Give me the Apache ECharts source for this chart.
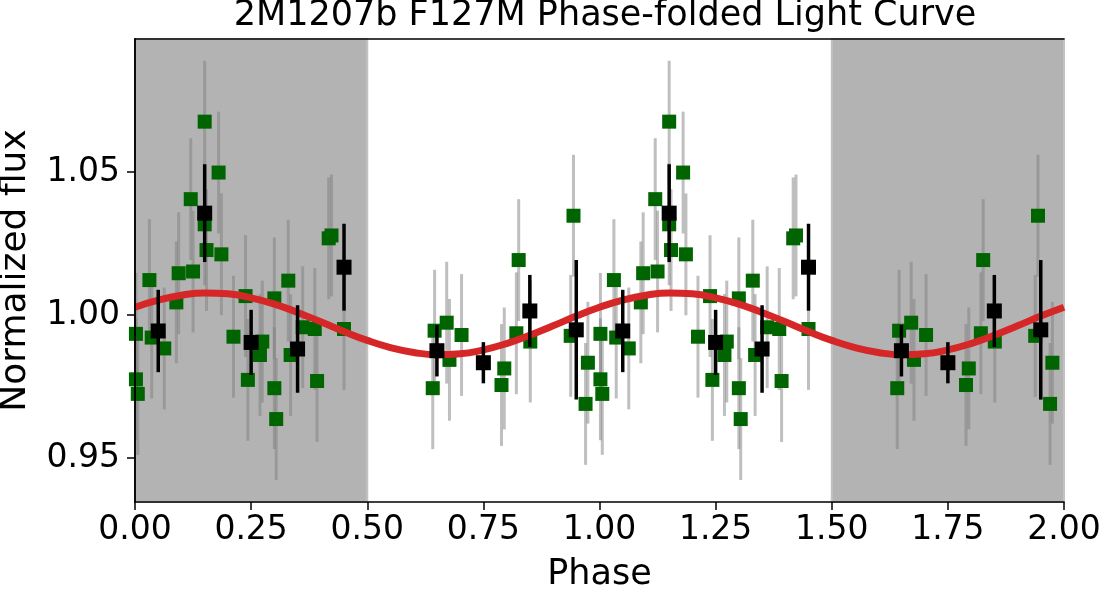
<!DOCTYPE html>
<html>
<head>
<meta charset="utf-8">
<title>2M1207b F127M Phase-folded Light Curve</title>
<script src="https://cdn.jsdelivr.net/npm/echarts@6/dist/echarts.min.js"></script>
<style>
  html, body { margin: 0; padding: 0; background: #fff; }
  #chart { width: 1104px; height: 593px; }
</style>
</head>
<body>
<div id="chart"></div>
<script>
// single-cycle data (phase 0..1), drawn twice for 0..2
const greenPhase = [0.002,0.002,0.006,0.031,0.036,0.063,0.089,0.094,0.120,0.125,0.150,0.150,0.154,0.180,0.186,0.212,0.238,0.243,0.269,0.274,0.300,0.300,0.304,0.330,0.335,0.361,0.387,0.392,0.417,0.423,0.450,0.641,0.645,0.671,0.677,0.703,0.789,0.795,0.821,0.826,0.851,0.938,0.944,0.970,0.975];
const greenFlux = [0.9934,0.9775,0.9724,1.0122,0.9921,0.9883,1.0044,1.0146,1.0405,1.0152,1.0676,1.0317,1.0227,1.0498,1.0212,0.9924,1.0066,0.9773,0.9860,0.9907,1.0058,0.9744,0.9636,1.0120,0.9860,0.9957,0.9951,0.9769,1.0268,1.0278,0.9951,0.9744,0.9945,0.9973,0.9843,0.9930,0.9755,0.9813,0.9936,1.0192,0.9907,0.9927,1.0347,0.9689,0.9833];
const greenErr = 0.0213;

const binPhase = [0.05,0.15,0.25,0.35,0.45,0.65,0.75,0.85,0.95];
const binFlux = [0.9944,1.0356,0.9904,0.9881,1.0167,0.9875,0.9833,1.0014,0.9948];
const binErr = [0.0144,0.0171,0.0114,0.0153,0.0152,0.0090,0.0072,0.0126,0.0244];

// model curve read at phase steps of 0.05 over one cycle
const curveStep = 0.05;
const curveFlux = [1.0027,1.0052,1.0069,1.0077,1.0074,1.0060,1.0038,1.0009,0.9976,0.9942,0.9911,0.9886,0.9869,0.9861,0.9864,0.9878,0.9900,0.9929,0.9962,0.9996,1.0027];

const yTicks = [0.95, 1.00, 1.05];
const shaded = [[0, 0.5], [1.5, 2.0]];

const font = 'DejaVu Sans';
const cycles = [0, 1];

let greenPts = [], greenBars = [], binPts = [], binBars = [], curvePts = [];
cycles.forEach(c => {
  greenPhase.forEach((p, i) => {
    if (p + c > 2) return;
    greenPts.push([p + c, greenFlux[i]]);
    greenBars.push([p + c, greenFlux[i] - greenErr, greenFlux[i] + greenErr]);
  });
  binPhase.forEach((p, i) => {
    binPts.push([p + c, binFlux[i]]);
    binBars.push([p + c, binFlux[i] - binErr[i], binFlux[i] + binErr[i]]);
  });
  curveFlux.forEach((v, i) => {
    if (c > 0 && i === 0) return;
    curvePts.push([c + i * curveStep, v]);
  });
});

function errBar(color, width) {
  return function (params, api) {
    const a = api.coord([api.value(0), api.value(1)]);
    const b = api.coord([api.value(0), api.value(2)]);
    return {
      type: 'line',
      shape: { x1: a[0], y1: a[1], x2: b[0], y2: b[1] },
      style: { stroke: color, lineWidth: width }
    };
  };
}

const axisLine = { show: true, lineStyle: { color: '#000', width: 1.5 } };

const chart = echarts.init(document.getElementById('chart'), null, { renderer: 'canvas' });
chart.setOption({
  backgroundColor: '#fff',
  animation: false,
  title: {
    text: '2M1207b F127M Phase-folded Light Curve',
    left: 600,
    textAlign: 'center',
    top: -7,
    textStyle: { fontFamily: font, fontSize: 35, fontWeight: 'normal', color: '#000' }
  },
  grid: { left: 135, right: 40, top: 39, bottom: 91, outerBoundsMode: 'none', containLabel: false },
  xAxis: [{
    type: 'value',
    min: 0, max: 2, interval: 0.25,
    z: 10,
    name: 'Phase',
    nameLocation: 'middle',
    nameGap: 55,
    nameTextStyle: { fontFamily: font, fontSize: 35, color: '#000' },
    axisLine: axisLine,
    axisTick: { show: true, length: 8, lineStyle: { color: '#000', width: 1.5 } },
    axisLabel: {
      fontFamily: font, fontSize: 33, color: '#000', margin: 12,
      formatter: v => v.toFixed(2)
    },
    splitLine: { show: false }
  }, {
    type: 'value', position: 'top',
    min: 0, max: 2, z: 10,
    axisLine: axisLine,
    axisTick: { show: false }, axisLabel: { show: false }, splitLine: { show: false }
  }],
  yAxis: [{
    type: 'value',
    min: 0.9346, max: 1.0965,
    z: 10,
    name: 'Normalized flux',
    nameLocation: 'middle',
    nameGap: 101,
    nameTextStyle: { fontFamily: font, fontSize: 36, color: '#000' },
    axisLine: axisLine,
    axisTick: { show: true, length: 8, customValues: yTicks, lineStyle: { color: '#000', width: 1.5 } },
    axisLabel: {
      fontFamily: font, fontSize: 33, color: '#000', margin: 15,
      customValues: yTicks,
      formatter: v => v.toFixed(2)
    },
    splitLine: { show: false }
  }, {
    type: 'value', position: 'right',
    min: 0.9346, max: 1.0965, z: 10,
    axisLine: axisLine,
    axisTick: { show: false }, axisLabel: { show: false }, splitLine: { show: false }
  }],
  series: [
    {
      // shaded half-cycles
      type: 'line',
      data: [],
      z: 1,
      silent: true,
      markArea: {
        silent: true,
        itemStyle: { color: '#b3b3b3', borderColor: '#c2c2c2', borderWidth: 2 },
        data: shaded.map(s => [{ xAxis: s[0] }, { xAxis: s[1] }])
      }
    },
    {
      type: 'custom',
      z: 2,
      renderItem: errBar('rgba(128,128,128,0.5)', 3),
      encode: { x: 0, y: [1, 2] },
      data: greenBars
    },
    {
      type: 'scatter',
      z: 3,
      symbol: 'rect',
      symbolSize: 14,
      itemStyle: { color: '#006400', opacity: 1 },
      data: greenPts
    },
    {
      type: 'line',
      z: 4,
      smooth: true,
      symbol: 'none',
      lineStyle: { color: '#d62728', width: 7 },
      data: curvePts
    },
    {
      type: 'custom',
      z: 5,
      renderItem: errBar('#000', 3.5),
      encode: { x: 0, y: [1, 2] },
      data: binBars
    },
    {
      type: 'scatter',
      z: 6,
      symbol: 'rect',
      symbolSize: 15,
      itemStyle: { color: '#000', opacity: 1 },
      data: binPts
    }
  ]
});
</script>
</body>
</html>
